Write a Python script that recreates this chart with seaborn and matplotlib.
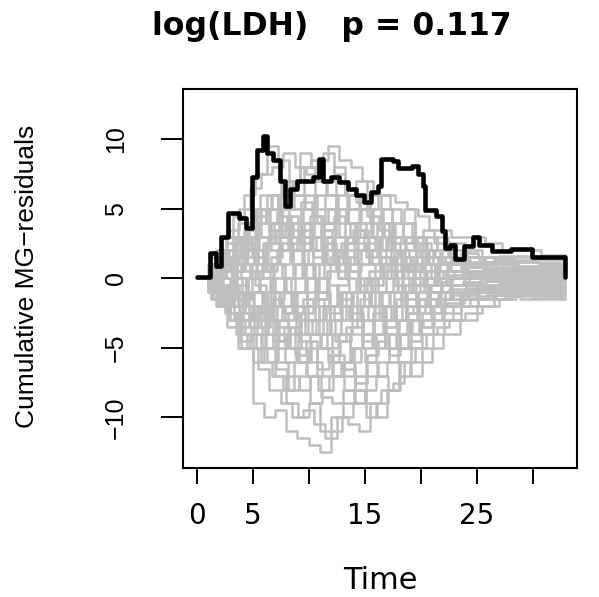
import numpy as np
import pandas as pd
import matplotlib
matplotlib.use("Agg")
import matplotlib.pyplot as plt
import seaborn as sns
from matplotlib import font_manager

# ---- data -------------------------------------------------------------
title_text = "log(LDH)   p = 0.117"
x_label = "Time"
y_label = "Cumulative MG\u2212residuals"
x_ticks = [0, 5, 10, 15, 20, 25, 30]
x_tick_labels = ["0", "5", "", "15", "", "25", ""]
y_ticks = [-10, -5, 0, 5, 10]
y_tick_labels = ["\u221210", "\u22125", "0", "5", "10"]

# observed cumulative martingale residual process
obs_time = [0, 1.2, 1.75, 2.2, 2.8, 3.8, 4.4, 4.9, 5.4, 5.9, 6.3, 6.8, 7.4, 7.9,
            8.3, 9.0, 10.4, 10.9, 11.3, 12.0, 12.7, 13.5, 14.2, 14.9, 15.6, 16.2,
            16.5, 17.5, 18.0, 19.2, 19.8, 20.2, 20.4, 21.4, 21.9, 22.2, 22.6, 23.1,
            23.9, 24.7, 25.2, 26.4, 28.1, 29.9, 32.9]
obs_value = [0.1, 1.85, 0.9, 3.0, 4.7, 4.35, 3.6, 7.3, 9.2, 10.2, 9.0, 8.5, 7.0, 5.2,
             6.4, 7.0, 7.3, 8.6, 7.0, 7.3, 6.9, 6.4, 6.0, 5.5, 6.2, 6.6,
             8.6, 8.4, 7.9, 8.1, 7.5, 6.6, 4.9, 4.5, 3.4, 2.2, 2.4, 1.4,
             2.3, 3.0, 2.4, 1.95, 2.1, 1.5, 0.1]

# simulated processes under the model
sim_time = [0, 1, 2, 3, 4, 5, 6, 7, 8, 9, 10, 11, 12, 13, 14, 15, 16, 17, 18, 19,
            20, 21, 22, 23.5, 25, 26.5, 28, 30, 32.9]
# jump-time lag of each simulated path relative to sim_time
sim_lag = [0.0, 0.5, 0.25, 0.75, 0.1, 0.6, 0.35, 0.85, 0.2, 0.65, 0.45, 0.9, 0.05, 0.55,
           0.3, 0.8, 0.15, 0.7, 0.4, 0.95, 0.12, 0.62, 0.38, 0.88, 0.22, 0.72, 0.48, 0.02,
           0.58, 0.32, 0.42, 0.78, 0.08, 0.52, 0.28, 0.68, 0.18, 0.92, 0.35, 0.6, 0.14, 0.82]
sim_paths = [
    [0, -1, -2, -3, -5, -9, -10, -9.5, -11, -11.5, -12, -12.5, -11, -10, -9, -8, -7, -6, -5, -4.5, -3.5, -3, -2, -1.5, -1, -1, -0.5, -0.5, -0.5],
    [0, -1.5, -2.5, -4, -5, -6.5, -8, -9, -10, -9.5, -10.5, -11.5, -10, -10.5, -11, -9, -8, -7.5, -6, -5, -4, -3.5, -3, -2.5, -2, -1.5, -1.2, -1.3, -1.3],
    [0, 1.5, 3, 4.5, 6, 7.5, 9.5, 8.5, 7, 8, 8.5, 9, 7.5, 6, 5.5, 4.5, 3.5, 3, 2.5, 3, 2, 1.5, 1.5, 1, 1, 0.8, 0.8, 0.8, 0.8],
    [0, 2, 3.5, 5, 6.5, 7.5, 8, 9, 8, 7.5, 8.5, 9.5, 8.5, 8, 7, 6, 6, 5.5, 5, 4.5, 3.5, 3.5, 3, 3, 2.5, 2, 2, 1.7, 1.6],
    [0, -1, -2, -1, -3, -4, -5, -6.5, -7, -8, -7, -8.5, -9, -8, -7, -6, -7, -8, -6, -5, -4, -3, -2.5, -2, -1.5, -1.5, -1.2, -1, -1],
    [0, 1, 0, 1.5, 3, 2, 4, 5, 6, 5, 7, 6, 5, 6, 4, 5, 4, 3, 2, 2.5, 1.5, 1, 0.5, 0.5, 0.3, 0.2, 0.2, 0.2, 0.2],
    [0, -0.5, 1, 2, 1, 3, 2, 4, 3, 5, 4, 3, 2, 3, 1, 2, 0, 1, -1, 0, 0.5, 0, 0.5, 0.8, 1, 1.2, 1.2, 1.3, 1.3],
    [0, -2, -3, -4.5, -3.5, -5, -4, -6, -5, -7, -8, -7, -6, -5, -4, -5, -3, -4, -2.5, -2, -1, -1.5, -1, -0.8, -0.8, -1, -1, -1, -1],
    [0, 1, 2, 3, 2, 4, 5, 4, 3, 2, 3, 1, 2, 0, -1, 0, -1, -2, -1, 0, -0.5, 0, 0, 0.3, 0.2, 0.4, 0.5, 0.5, 0.5],
    [0, -1, -0.5, -2, -1, 0, -2, -3, -2, -4, -3, -5, -4, -6, -5, -4, -3, -2, -3, -2, -1, -1.5, -0.5, -0.8, -0.5, -0.3, -0.3, -0.4, -0.4],
    [0, 0.5, 2, 1, 2.5, 4, 3, 6, 5, 4, 6, 5, 7, 5, 6, 4, 5, 3, 4, 2, 3, 2, 1.5, 1.2, 1.5, 1.4, 1.2, 1.1, 1.1],
    [0, -1, -2, -3, -2, -1, -3, -2, -4, -3, -2, -4, -3, -1, -2, 0, -1, 1, 0, -1, -0.5, -1, -1.2, -1, -1.2, -1.3, -1.5, -1.5, -1.5],
    [0, 1, -1, 0, -2, -1, -3, -5, -4, -6, -5, -4, -6, -7, -5, -6, -4, -5, -3, -4, -3, -2, -1.5, -1, -0.5, -0.5, -0.3, -0.2, -0.2],
    [0, 0.5, 1, 3, 4, 3, 5, 7, 6, 8, 7, 6, 4, 5, 3, 4, 2, 3, 2.5, 1, 1.5, 0.5, 1, 0.5, 0.7, 0.6, 0.6, 0.7, 0.7],
    [0, -1.5, -1, -3, -4, -5, -6, -4, -5, -3, -4, -2, -3, -1, -2, -3, -1, -2, -0.5, -1, 0, -0.5, 0.5, 0, 0.2, 0, 0, 0.1, 0.1],
    [0, 1, 2, 1, 0, 1, -1, 0, 1, -1, 0, -2, -1, -3, -2, -4, -2, -3, -1, -2, -1, 0, -0.5, 0, -0.2, -0.5, -0.6, -0.7, -0.7],
    [0, -0.5, -2, -1, -3, -2, -5, -6, -8, -7, -9, -8, -7, -8, -9, -7, -6, -4, -5, -3, -2.5, -2, -1, -1.5, -1, -0.8, -0.8, -0.9, -0.9],
    [0, 1.5, 2.5, 4, 3, 5, 6, 7, 5, 6, 4, 5, 3, 4, 5, 3, 4, 2, 3, 2, 1, 2, 1, 1.5, 1.2, 1.0, 0.9, 1.0, 1.0],
    [0, 0, 1, -1, 0, 2, 1, 3, 2, 1, 2, 4, 3, 2, 1, 3, 2, 4, 3, 2, 1, 0.5, 1, 0.5, 0, -0.2, -0.2, -0.3, -0.3],
    [0, -1, 0, 1, -1, -2, 0, -1, -3, -2, -4, -3, -1, -2, 0, 1, 0, -1, 0, 1, 0, 0.5, 0, 0.2, 0.3, 0.2, 0.1, 0, 0],
    [0, 0.5, -1, -2, -1, -3, -4, -3, -5, -6, -4, -5, -7, -6, -8, -10, -9, -8, -6, -7, -5, -4, -3, -2, -1.5, -1.2, -1.2, -1.2, -1.2],
    [0, 1, 3, 2, 4, 6, 5, 3, 4, 2, 3, 1, 0, 1, -1, 0, 1, 2, 1, 2, 1, 1.5, 2, 1.5, 1.2, 1.5, 1.5, 1.5, 1.5],
    [0, -1, -1.5, 0, -2, -3, -1, -2, 0, 1, 0, 2, 1, 3, 2, 1, 3, 2, 1, 0, 1, 0, -0.5, 0, 0.5, 0.5, 0.3, 0.4, 0.4],
    [0, 0.5, 1.5, 3, 2, 0, 1, -1, -2, 0, -1, -3, -2, -4, -3, -2, -4, -5, -4, -3, -2, -3, -2, -1.5, -1, -1, -0.8, -0.6, -0.6],
    [0, -0.5, 0.5, 2, 3.5, 5, 4, 6, 7, 9, 8, 7, 8, 6, 7, 5, 6, 5, 4, 3, 3.5, 2.5, 2, 1.5, 1, 1, 0.8, 0.9, 0.9],
    [0, -2, -3.5, -5, -4, -6, -7, -8, -6, -7, -5, -6, -4, -5, -3, -4, -2, -3, -2, -1, -2, -1, -1.5, -1, -0.6, -0.6, -0.5, -0.6, -0.6],
    [0, 1, 0.5, 2, 1, 2, 3, 2, 1, 3, 5, 4, 6, 4, 5, 6, 5, 4, 5, 3, 2, 3, 2.5, 2, 1.5, 1.6, 1.6, 1.6, 1.6],
    [0, -1, -2, -2.5, -4, -6, -5, -7, -9, -10, -9, -11, -10, -9, -8, -9, -10, -8, -7, -6, -6, -5, -4, -3, -2, -1.5, -1.3, -1.4, -1.4],
    [0, 0.5, 0, -1, 0, -1, 1, 0, 2, 0, 1, 2, 0, -1, 0, -2, -3, -1, -2, -1, -2, -1.5, -1, -0.5, 0, 0.3, 0.3, 0.3, 0.3],
    [0, -0.5, -1, 0.5, 1.5, 0.5, 2.5, 1, 3, 4, 2, 3, 5, 4, 3, 2, 1, 2, 0, 1, 0, 1, 0.5, 1, 0.8, 0.7, 0.7, 0.7, 0.7],
    [0, 1, 2, 2.5, 4, 5, 3.5, 4.5, 2.5, 3.5, 1.5, 2.5, 0.5, 1.5, -0.5, 0.5, 1.5, 0.5, -0.5, 0.5, -0.5, 0.5, 0, -0.3, -0.5, -0.4, -0.4, -0.5, -0.5],
    [0, -1, -1.5, -2.5, -3.5, -2.5, -4.5, -3.5, -5.5, -4.5, -6.5, -5.5, -4.5, -3.5, -4.5, -2.5, -3.5, -1.5, -2.5, -1.5, -0.5, -1, 0, 0.2, 0.5, 0.6, 0.6, 0.6, 0.6],
    [0, 0.5, 1.5, 0.5, 2, 1, 2.5, 3.5, 4.5, 3, 2, 3.5, 2, 1, 2.5, 1.5, 3, 2, 1.5, 0.5, 1.5, 1, 1.2, 1.8, 1.5, 1.3, 1.3, 1.4, 1.4],
    [0, -0.5, -1.5, -0.5, -2, -3.5, -2, -1, -2.5, -1.5, -3, -2, -0.5, 0.5, -1, -2, -1, 0, 1, -0.5, -1.5, -1, -0.8, -0.5, -0.9, -1.1, -1.1, -1.1, -1.1],
    [0, 1, 0, 2, 3, 4.5, 6, 5, 4, 5.5, 4.5, 3.5, 4.5, 2.5, 3.5, 2.5, 1.5, 0.5, 1.5, 0.5, 1, 0, -0.5, -0.3, 0, 0.1, 0.1, 0.2, 0.2],
    [0, -1, -2.5, -3.5, -2, -3, -1.5, -2.5, -1, 0, -1.5, 0.5, 1.5, 0.5, 2, 1, 0, 1.5, 0.5, 2, 1, 0.5, 1, 0.5, 0.1, 0, 0, -0.1, -0.1],
    [0, 0, -1, 1, 0.5, -0.5, -2, -3.5, -2.5, -4.5, -6, -7, -5.5, -6.5, -7.5, -5.5, -4.5, -5.5, -4, -3, -3.5, -2.5, -2, -1.2, -0.8, -0.9, -0.9, -0.8, -0.8],
    [0, 1.5, 2, 3, 1.5, 2.5, 4, 3, 2, 1, 0, 1.5, 2.5, 3.5, 2, 3, 1, 2, 1.5, 2.5, 2, 1, 1.3, 0.8, 0.5, 0.5, 0.4, 0.4, 0.4],
    [0, -1.5, -2, -1, -2.5, -4, -3, -4.5, -3.5, -2.5, -1.5, -3, -4.5, -3.5, -2, -1, -2, -3, -2, -2.5, -1.5, -2, -1.8, -1.4, -1.3, -1.2, -1.1, -1.2, -1.2],
    [0, 0.5, 1, 0, -1, 0.5, 1.5, 2.5, 1, 0, -1.5, -0.5, -2, -3, -1.5, -0.5, 0.5, -0.5, -1.5, -0.5, 0.5, -0.3, 0.2, 0.4, 0, -0.2, -0.1, -0.1, -0.1],
    [0, -0.5, 0, 1.5, 2.5, 1.5, 0.5, 2, 3.5, 2.5, 4.5, 3, 1.5, 2.5, 4, 3, 4, 2.5, 1.5, 1, 2, 1.5, 1, 0.5, 0.3, 0.5, 0.6, 0.6, 0.6],
    [0, -1, -0.5, -1.5, -1, -2.5, -1.5, 0, -1, -2, -1, -2.5, -1.5, -2.5, -4, -3, -5, -4, -3, -1.5, -2.5, -1.5, -1, -0.7, -0.2, -0.1, 0, 0, 0],
]

# ---- build tables ---------------------------------------------------------
rows = []
for i, (path, lag) in enumerate(zip(sim_paths, sim_lag)):
    times = [sim_time[0]] + [t + lag for t in sim_time[1:-1]] + [sim_time[-1]]
    rows += [(i, t, v) for t, v in zip(times, path)]
sim_df = pd.DataFrame(rows, columns=["path", "time", "value"])
obs_df = pd.DataFrame({"time": obs_time, "value": obs_value})

# ---- style ----------------------------------------------------------------
sns.set_style("white")
installed = {f.name for f in font_manager.fontManager.ttflist}
has_narrow = "Liberation Sans Narrow" in installed
narrow = ["Liberation Sans Narrow", "Liberation Sans"] if has_narrow else ["Liberation Sans"]
narrow_size = 23 if has_narrow else 19
tick_size = 22 if has_narrow else 18
plt.rcParams["font.family"] = ["DejaVu Sans"]
for k in ["text.color", "axes.labelcolor", "xtick.color", "ytick.color", "axes.edgecolor"]:
    plt.rcParams[k] = "black"

fig = plt.figure(figsize=(5.99, 5.97), dpi=100)
W, H = 599, 597
left, right, top, bottom = 183, 576.5, 89, 467.5
ax = fig.add_axes([left / W, 1 - bottom / H, (right - left) / W, (bottom - top) / H])

sns.lineplot(data=sim_df, x="time", y="value", units="path", estimator=None,
             color="#BEBEBE", lw=1.8, drawstyle="steps-post", ax=ax, legend=False)
sns.lineplot(data=obs_df, x="time", y="value", color="black", lw=3.3,
             drawstyle="steps-post", ax=ax, legend=False, zorder=5)

ax.set_xlim(-1.22, 33.91)
ax.set_ylim(-13.6, 13.6)
ax.set_xlabel("")
ax.set_ylabel("")

ax.set_xticks(x_ticks)
ax.set_xticklabels(x_tick_labels, fontsize=20, family="DejaVu Sans")
ax.set_yticks(y_ticks)
ax.set_yticklabels(y_tick_labels, fontsize=tick_size, family=narrow,
                   rotation=90, va="center")
ax.tick_params(axis="x", length=11.5, width=1.4, pad=13, color="black",
               labelcolor="black", direction="out", bottom=True)
ax.tick_params(axis="y", length=15.8, width=1.4, pad=24, color="black",
               labelcolor="black", direction="out", left=True)
for s in ax.spines.values():
    s.set_visible(True)
    s.set_color("black")
    s.set_linewidth(1.5)

fig.text(332 / W, 1 - 35 / H, title_text, ha="center", va="baseline",
         fontsize=22.7, fontweight="bold", family="DejaVu Sans", color="black")
fig.text(380 / W, 1 - 589 / H, x_label, ha="center", va="baseline",
         fontsize=22, family="DejaVu Sans", color="black")
fig.text(27 / W, 1 - 276.5 / H, y_label, ha="center", va="center", rotation=90,
         fontsize=narrow_size, family=narrow, color="black")

fig.savefig("out.png", dpi=100, facecolor="white")
